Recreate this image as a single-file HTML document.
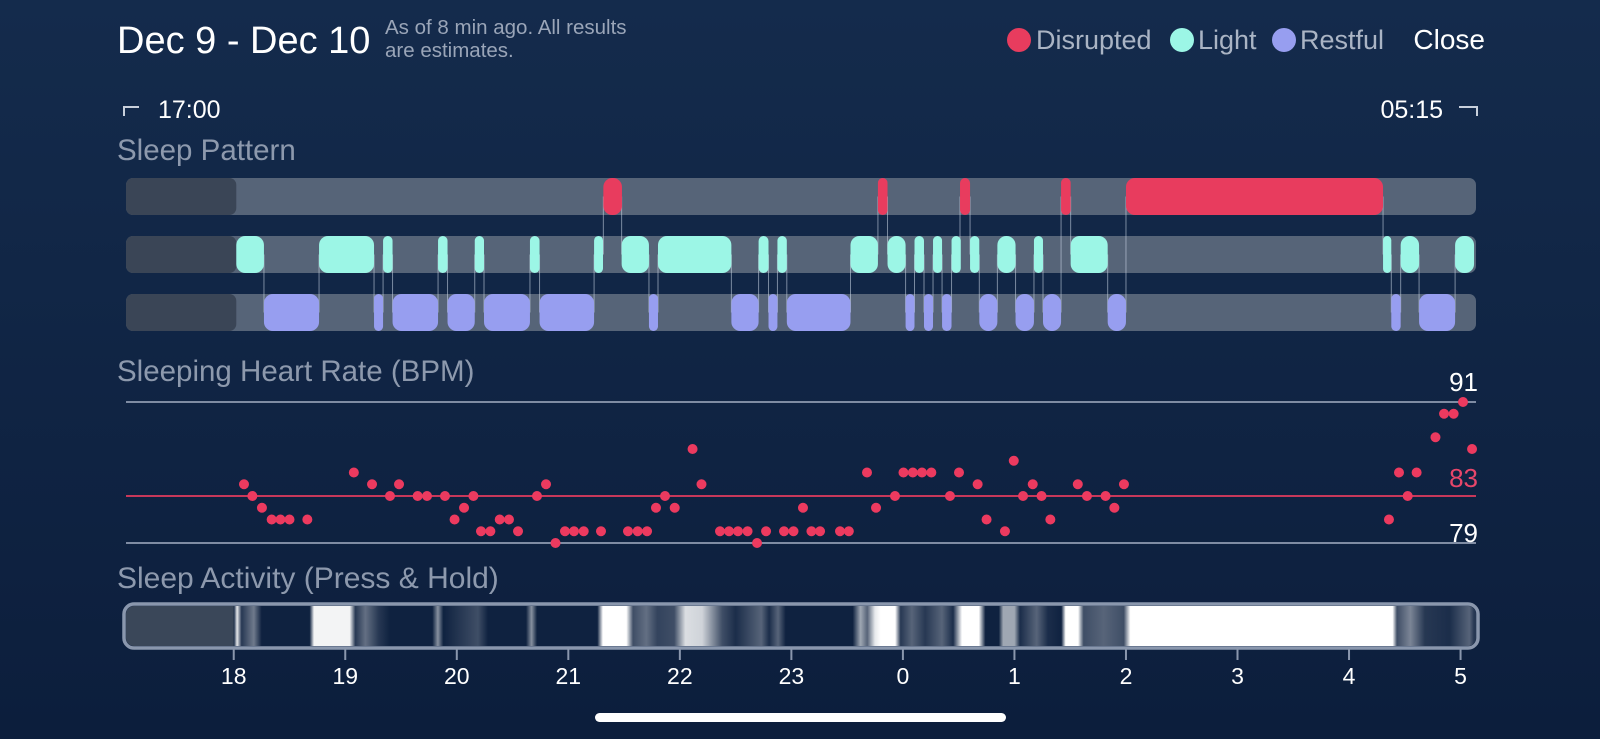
<!DOCTYPE html>
<html><head><meta charset="utf-8"><style>
html,body{margin:0;padding:0;width:1600px;height:739px;overflow:hidden;background:#0f2342}
svg{display:block}
text{font-family:"Liberation Sans",sans-serif}
</style></head><body>
<svg id="c" width="1600" height="739" viewBox="0 0 1600 739">
<defs>
<linearGradient id="bg" x1="0" y1="0" x2="0" y2="1"><stop offset="0" stop-color="#142b4c"/><stop offset="1" stop-color="#0c1e3c"/></linearGradient>
<linearGradient id="act" x1="0" y1="0" x2="1" y2="0" gradientUnits="userSpaceOnUse"></linearGradient>
<clipPath id="actClip"><rect x="126" y="606" width="1350" height="40" rx="8"/></clipPath>
</defs>
<rect width="1600" height="739" fill="url(#bg)"/>
<text x="117" y="53" font-size="38" fill="#fff">Dec 9 - Dec 10</text>
<text x="385" y="34" font-size="20.5" fill="#9aa5b8">As of 8 min ago. All results</text>
<text x="385" y="57" font-size="20.5" fill="#9aa5b8">are estimates.</text>
<g>
<circle cx="1019" cy="40" r="12" fill="#e83c5e"/>
<text x="1036" y="49" font-size="27" fill="#aab4c4">Disrupted</text>
<circle cx="1182" cy="40" r="12" fill="#9cf6e6"/>
<text x="1198" y="49" font-size="27" fill="#aab4c4">Light</text>
<circle cx="1284" cy="40" r="12" fill="#979ef0"/>
<text x="1300" y="49" font-size="27" fill="#aab4c4">Restful</text>
</g>
<text x="1485" y="49" font-size="28" fill="#fff" text-anchor="end">Close</text>
<path d="M124,116 V107 H139" stroke="#c8d0dc" stroke-width="2" fill="none"/>
<text x="158" y="118" font-size="25" fill="#fff">17:00</text>
<text x="1443" y="118" font-size="25" fill="#fff" text-anchor="end">05:15</text>
<path d="M1459,107 H1477 V116" stroke="#c8d0dc" stroke-width="2" fill="none"/>
<text x="117" y="160" font-size="29.5" fill="#8d99ad">Sleep Pattern</text>
<g id="pattern"></g>
<text x="117" y="381" font-size="29.5" fill="#8d99ad">Sleeping Heart Rate (BPM)</text>
<g id="hr"></g>
<text x="117" y="588" font-size="30" fill="#8d99ad">Sleep Activity (Press &amp; Hold)</text>
<g id="activity"></g>
<g id="axis"></g>
<rect x="595" y="713" width="411" height="9" rx="4.5" fill="#fff"/>
</svg>
<script>
// hours since 17:00
const disruptedSegs = [[4.314,4.481],[6.776,6.862],[7.512,7.602],[8.418,8.504],[9.0,11.305]];
const lightSegs = [[1.023,1.271],[1.765,2.258],[2.339,2.424],[2.832,2.917],[3.161,3.244],[3.656,3.742],[4.231,4.311],[4.478,4.723],[4.804,5.462],[5.706,5.795],[5.875,5.959],[6.530,6.776],[6.862,7.024],[7.104,7.189],[7.270,7.351],[7.436,7.519],[7.602,7.685],[7.847,8.010],[8.175,8.256],[8.504,8.836],[11.305,11.379],[11.463,11.628],[11.951,12.121]];
const restfulSegs = [[1.271,1.765],[2.258,2.339],[2.424,2.832],[2.917,3.161],[3.244,3.656],[3.742,4.231],[4.723,4.804],[5.462,5.706],[5.795,5.875],[5.959,6.530],[7.024,7.104],[7.189,7.270],[7.351,7.436],[7.685,7.847],[8.010,8.175],[8.256,8.418],[8.836,9.0],[11.379,11.463],[11.628,11.951]];
const hrTimes = [1.092,1.167,1.253,1.340,1.419,1.500,1.660,2.077,2.240,2.401,2.482,2.649,2.733,2.894,2.980,3.065,3.149,3.217,3.301,3.385,3.468,3.549,3.719,3.800,3.885,3.970,4.051,4.138,4.293,4.535,4.622,4.706,4.786,4.867,4.954,5.114,5.194,5.360,5.441,5.521,5.607,5.692,5.773,5.934,6.019,6.104,6.180,6.257,6.436,6.515,6.678,6.759,6.929,7.005,7.089,7.171,7.255,7.422,7.503,7.670,7.750,7.915,7.994,8.077,8.164,8.243,8.322,8.568,8.650,8.817,8.896,8.982,11.358,11.448,11.526,11.606,11.775,11.852,11.938,12.022,12.103];
const hrValues = [84,83,82,81,81,81,81,85,84,83,84,83,83,83,81,82,83,80,80,81,81,80,83,84,79,80,80,80,80,80,80,80,82,83,82,87,84,80,80,80,80,79,80,80,80,82,80,80,80,80,85,82,83,85,85,85,85,83,85,84,81,80,86,83,84,83,81,84,83,83,82,84,81,85,83,85,88,90,90,91,87];
const hrTicks = [91,83,79];
const actHours = [1.0,1.03,1.07,1.18,1.25,1.68,1.72,2.04,2.09,2.18,2.3,2.4,2.78,2.83,2.88,3.19,3.28,3.62,3.67,3.72,4.26,4.31,4.52,4.58,4.7,4.8,4.95,5.05,5.2,5.38,5.5,5.73,5.8,5.88,5.95,6.55,6.62,6.68,6.75,6.8,6.93,6.98,7.08,7.2,7.35,7.45,7.53,7.68,7.74,7.86,7.9,8.0,8.05,8.2,8.3,8.42,8.46,8.57,8.62,8.8,8.98,9.04,11.39,11.43,11.55,11.68,11.9,12.08,12.12];
const actLevels = [0,0.9,0.1,0.4,0,0,0.95,0.95,0.1,0.35,0.1,0,0,0.5,0,0.2,0,0,0.5,0,0,1,1,0.2,0.35,0.15,0.2,0.85,0.8,0.2,0.05,0.3,0.05,0.3,0,0,0.6,0.3,0.9,1,1,0.1,0.3,0.1,0.3,0.05,1,1,0,0,0.6,0.6,0.05,0.3,0.05,0,1,1,0.2,0.3,0.2,1,1,0.2,0.45,0.1,0.05,0.3,0.1];
const axisLabels = ["18","19","20","21","22","23","0","1","2","3","4","5"];

const NS = "http://www.w3.org/2000/svg";
const X0 = 122.2, HW = 111.53, BARL = 126, BARR = 1476;
const xs = h => X0 + h * HW;
const HR_MIN = 79, HR_MAX = 91, HR_Y0 = 543, HR_Y1 = 402;
const ys = v => HR_Y0 - (v - HR_MIN) * (HR_Y0 - HR_Y1) / (HR_MAX - HR_MIN);
function mk(tag, attrs, parent) { const e = document.createElementNS(NS, tag); for (const k in attrs) e.setAttribute(k, attrs[k]); parent.appendChild(e); return e; }

// Sleep pattern
const pat = document.getElementById('pattern');
const rows = [{y:178,segs:disruptedSegs,col:'#e83c5e',n:'disrupted'},{y:236,segs:lightSegs,col:'#9cf6e6',n:'light'},{y:294,segs:restfulSegs,col:'#979ef0',n:'restful'}];
const RH = 37;
rows.forEach(r => {
  const bg = mk('rect', {x:BARL,y:r.y,width:BARR-BARL,height:RH,rx:7,fill:'#566478'}, pat);
  
  
  const pre = mk('rect', {x:BARL,y:r.y,width:xs(1.023)-BARL,height:RH,rx:7,fill:'#3a4556'}, pat);
  
  
});
const all = [];
rows.forEach((r, i) => r.segs.forEach(s => all.push({s: s[0], e: s[1], row: i})));
all.sort((a, b) => a.s - b.s);
for (let i = 1; i < all.length; i++) {
  const a = all[i-1], b = all[i];
  const x = xs(b.s);
  const y1 = rows[a.row].y + RH/2, y2 = rows[b.row].y + RH/2;
  const ln = mk('line', {x1:x,x2:x,y1:Math.min(y1,y2),y2:Math.max(y1,y2),stroke:'rgba(210,220,235,0.55)','stroke-width':1}, pat);
  
  
}
rows.forEach(r => r.segs.forEach(s => {
  const w = xs(s[1]) - xs(s[0]);
  const seg = mk('rect', {x:xs(s[0]),y:r.y,width:w,height:RH,rx:Math.min(9,w/2),fill:r.col}, pat);
  
  
}));

// Heart rate
const hr = document.getElementById('hr');
hrTicks.forEach((t, i) => {
  const red = t === 83;
  const ln = mk('line', {x1:BARL,x2:BARR,y1:ys(t),y2:ys(t),stroke:red?'#c8385a':'#7f8ca3','stroke-width':2}, hr);
  
  
  const off = (i === hrTicks.length - 1) ? 1 : (red ? 9 : 11);
  const tx = mk('text', {x:1478,y:ys(t)-off,'font-size':26,'text-anchor':'end',fill:red?'#e8466a':'#fff'}, hr);
  tx.textContent = t;
  
  
});
hrTimes.forEach((t, i) => {
  const c = mk('circle', {cx:xs(t),cy:ys(hrValues[i]),r:5,fill:'#ec3a5f'}, hr);
  
  
});

// Activity
const grad = document.getElementById('act');
grad.setAttribute('x1', BARL); grad.setAttribute('x2', BARR);
const lerp = (a, b, t) => Math.round(a + (b - a) * t);
actHours.forEach((h, i) => {
  const lv = actLevels[i];
  const col = 'rgb(' + lerp(15,255,lv) + ',' + lerp(34,255,lv) + ',' + lerp(64,255,lv) + ')';
  mk('stop', {offset:((xs(h)-BARL)/(BARR-BARL)).toFixed(4),'stop-color':col}, grad);
});
const act = document.getElementById('activity');
const g2 = mk('g', {'clip-path':'url(#actClip)'}, act);
const strip = mk('rect', {x:BARL,y:606,width:BARR-BARL,height:40,fill:'url(#act)'}, g2);


const preA = mk('rect', {x:BARL,y:606,width:xs(1.0)-BARL,height:40,fill:'#3a4759'}, g2);


const frame = mk('rect', {x:BARL-2,y:604,width:BARR-BARL+4,height:44,rx:10,fill:'none',stroke:'#8a97ad','stroke-width':3.5}, act);



// Axis
const ax = document.getElementById('axis');
axisLabels.forEach((l, i) => {
  const x = xs(i + 1);
  const t = mk('line', {x1:x,x2:x,y1:649,y2:660,stroke:'#8a97ad','stroke-width':2}, ax);
  
  
  const tx = mk('text', {x:x,y:684,'font-size':23,'text-anchor':'middle',fill:'#fff'}, ax);
  tx.textContent = l;
  
  
});
</script>
</body></html>
